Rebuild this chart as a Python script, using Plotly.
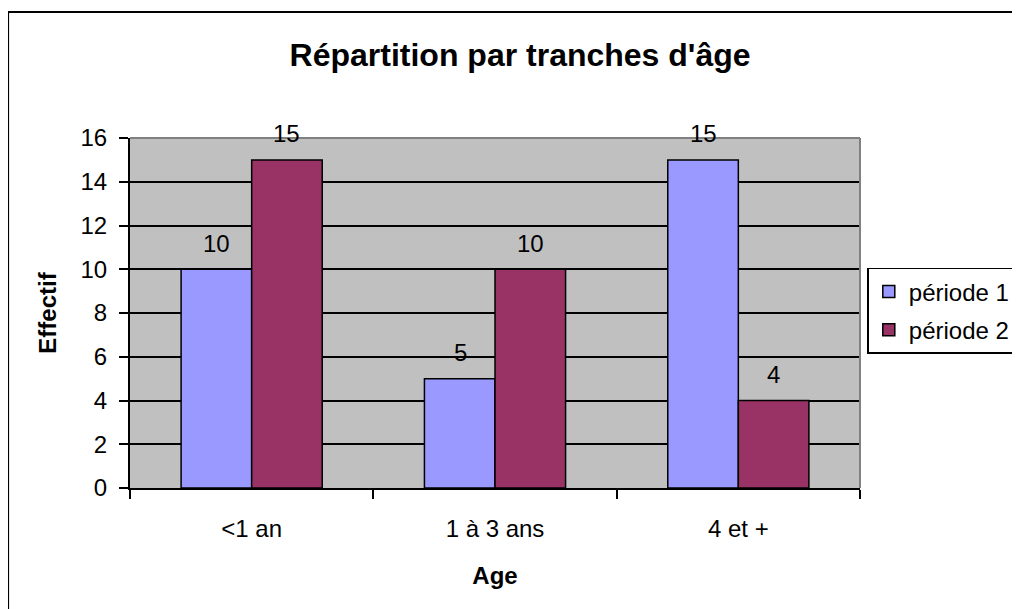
import plotly.graph_objects as go

categories = ["<1 an", "1 à 3 ans", "4 et +"]
periode_1 = [10, 5, 15]
periode_2 = [15, 10, 4]
y_ticks = [0, 2, 4, 6, 8, 10, 12, 14, 16]

FONT = "Arial, Liberation Sans, sans-serif"

fig = go.Figure()
fig.add_trace(go.Bar(x=categories, y=periode_1, name="période 1", legendgroup="p1",
                     marker=dict(color="#9999FF", line=dict(color="black", width=1.5))))
fig.add_trace(go.Bar(x=categories, y=periode_2, name="période 2", legendgroup="p2",
                     marker=dict(color="#993366", line=dict(color="black", width=1.5))))

# value labels above each bar
for shift, values in [(-35, periode_1), (35, periode_2)]:
    for cat, v in zip(categories, values):
        fig.add_annotation(x=cat, y=v, text=str(v), showarrow=False, xshift=shift, yshift=26,
                           yanchor="middle", font=dict(size=24, color="black", family=FONT))

# grey border on top and right of the plot area, and the outer frame
fig.add_shape(type="line", xref="paper", yref="paper", x0=0, x1=1, y0=1, y1=1,
              line=dict(color="#808080", width=2), layer="above")
fig.add_shape(type="line", xref="paper", yref="paper", x0=1, x1=1, y0=0, y1=1,
              line=dict(color="#808080", width=2), layer="above")
fig.add_shape(type="rect", xref="paper", yref="paper", x0=-0.167, x1=1.5, y0=1.36, y1=-0.5,
              line=dict(color="black", width=2), layer="above")

# page has an 8px body margin, so the figure is a bit smaller and shifted
fig.update_layout(
    width=1012, height=601,
    margin=dict(l=122, r=160, t=130, b=121, autoexpand=False),
    paper_bgcolor="white", plot_bgcolor="#C0C0C0",
    font=dict(family=FONT, size=24, color="black"),
    barmode="group", bargap=0.42, bargroupgap=0,
    title=dict(text="<b>Répartition par tranches d'âge</b>", x=0.506, xanchor="center",
               y=1 - 47 / 601, yanchor="middle", yref="container", font=dict(size=32)),
    legend=dict(x=1.01, y=0.629, xanchor="left", yanchor="top", bordercolor="black", borderwidth=1.5,
                bgcolor="white", font=dict(size=24), tracegroupgap=4, itemwidth=30),
    xaxis=dict(type="category", tickson="boundaries", ticks="outside", ticklen=9, tickwidth=2,
               tickcolor="black", showline=True, linecolor="black", linewidth=2,
               ticklabelstandoff=18,
               title=dict(text="<b>Age</b>", standoff=26, font=dict(size=24))),
    yaxis=dict(range=[0, 16], tickvals=y_ticks, ticks="outside", ticklen=9, tickwidth=2,
               tickcolor="black", showline=True, linecolor="black", linewidth=2,
               showgrid=True, gridcolor="black", gridwidth=1.5, zeroline=False,
               ticklabelstandoff=7,
               title=dict(text="<b>Effectif</b>", standoff=17, font=dict(size=24))),
)

fig.write_html("out.html")
